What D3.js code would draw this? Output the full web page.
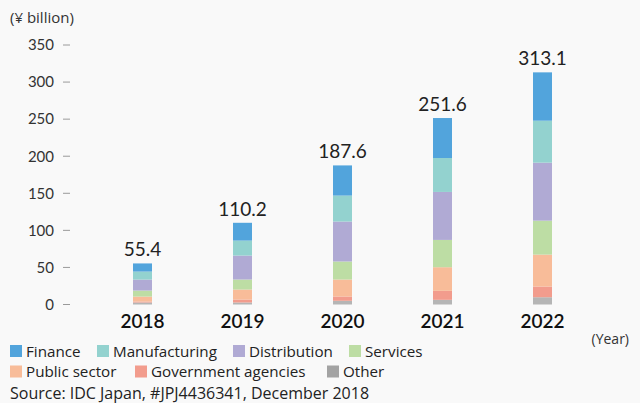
<!DOCTYPE html>
<html>
<head>
<meta charset="utf-8">
<script src="https://cdn.jsdelivr.net/npm/d3@7"></script>
<style>
  html, body { margin: 0; padding: 0; background: #f9f9f9; }
  svg { display: block; font-family: "Open Sans", "Noto Sans", sans-serif; }
</style>
</head>
<body>
<svg id="chart" width="640" height="403"></svg>
<script>
// Market size by industry, ¥ billion
const years = ["2018", "2019", "2020", "2021", "2022"];
const totals = [55.4, 110.2, 187.6, 251.6, 313.1];
const finance       = [11.0, 24.0, 40.7, 53.9, 65.2];
const manufacturing = [10.8, 20.2, 35.0, 45.8, 56.6];
const distribution  = [14.8, 32.3, 53.9, 64.7, 78.2];
const services      = [ 8.1, 13.5, 24.3, 36.8, 45.8];
const publicSector  = [ 6.7, 13.5, 22.9, 31.9, 43.1];
const government    = [ 1.3,  4.0,  5.8, 12.1, 14.4];
const other         = [ 2.7,  2.7,  5.0,  6.3,  9.8];
const yTicks = [0, 50, 100, 150, 200, 250, 300, 350];

const seriesNames = ["Other", "Government agencies", "Public sector", "Services",
                     "Distribution", "Manufacturing", "Finance"];
const seriesValues = [other, government, publicSector, services,
                      distribution, manufacturing, finance];
const colors = {
  "Finance": "#52a4dc",
  "Manufacturing": "#93d2cf",
  "Distribution": "#b0aad4",
  "Services": "#bddda4",
  "Public sector": "#f8bc99",
  "Government agencies": "#f29c8d",
  "Other": "#b5b5b5"
};
const legendColors = Object.assign({}, colors, { "Other": "#a3a3a3" });

const rows = years.map((y, i) => {
  const r = { year: y };
  seriesNames.forEach((n, k) => r[n] = seriesValues[k][i]);
  return r;
});
const stacked = d3.stack().keys(seriesNames)(rows);

const svg = d3.select("#chart");

const x = d3.scaleBand().domain(years).range([92.5, 592.5]).paddingInner(0.81).paddingOuter(0.405);
const y = d3.scaleLinear().domain([0, 350]).range([304.5, 45]);

// Y axis: labels with short tick dashes, no domain line
const yAxis = d3.axisLeft(y).tickValues(yTicks).tickSize(7).tickPadding(9);
const gy = svg.append("g").attr("transform", "translate(70,0)").call(yAxis);
gy.select(".domain").remove();
gy.selectAll(".tick line").attr("stroke", "#9a9a9a").attr("transform", "translate(0,-0.5)");
gy.selectAll(".tick text").attr("fill", "#333").style("font-size", "15px")
  .style("font-family", "Lato, sans-serif").attr("dy", "0.32em");

svg.append("text").attr("x", 10).attr("y", 23).attr("fill", "#333")
  .style("font-size", "15px").text("(¥ billion)");

// Stacked bars
svg.append("g").selectAll("g").data(stacked).join("g")
  .attr("fill", d => colors[d.key])
  .selectAll("rect").data(d => d).join("rect")
  .attr("x", d => x(d.data.year))
  .attr("width", x.bandwidth())
  .attr("y", d => y(d[1]))
  .attr("height", d => y(d[0]) - y(d[1]));

// Totals above bars
svg.append("g").selectAll("text").data(years).join("text")
  .attr("x", d => x(d) + x.bandwidth() / 2)
  .attr("y", (d, i) => y(totals[i]) - 7)
  .attr("text-anchor", "middle").attr("fill", "#222")
  .style("font-family", "Lato, sans-serif")
  .style("font-size", "19px").text((d, i) => totals[i].toFixed(1));

// X axis category labels
const xAxis = d3.axisBottom(x).tickSize(0).tickPadding(0);
const gx = svg.append("g").attr("transform", "translate(0,310)").call(xAxis);
gx.select(".domain").remove();
gx.selectAll(".tick text").attr("fill", "#111").attr("dy", "0.95em")
  .style("font-size", "19px").style("font-weight", "600").style("font-family", "Lato, sans-serif");

svg.append("text").attr("x", 629).attr("y", 344).attr("text-anchor", "end")
  .attr("fill", "#333").style("font-size", "14px").text("(Year)");

// Legend
const legendItems = [
  { name: "Finance", x: 10, row: 0 },
  { name: "Manufacturing", x: 97, row: 0 },
  { name: "Distribution", x: 233, row: 0 },
  { name: "Services", x: 349, row: 0 },
  { name: "Public sector", x: 10, row: 1 },
  { name: "Government agencies", x: 135, row: 1 },
  { name: "Other", x: 327, row: 1 }
];
const lg = svg.append("g").selectAll("g").data(legendItems).join("g")
  .attr("transform", d => `translate(${d.x},${345 + d.row * 20.5})`);
lg.append("rect").attr("width", 12).attr("height", 12).attr("fill", d => legendColors[d.name]);
lg.append("text").attr("x", 16).attr("y", 11.5).attr("fill", "#222")
  .style("font-size", "15.2px").text(d => d.name);

svg.append("text").attr("x", 10).attr("y", 398.5).attr("fill", "#222")
  .style("font-size", "16px").text("Source: IDC Japan, #JPJ4436341, December 2018");
</script>
</body>
</html>
